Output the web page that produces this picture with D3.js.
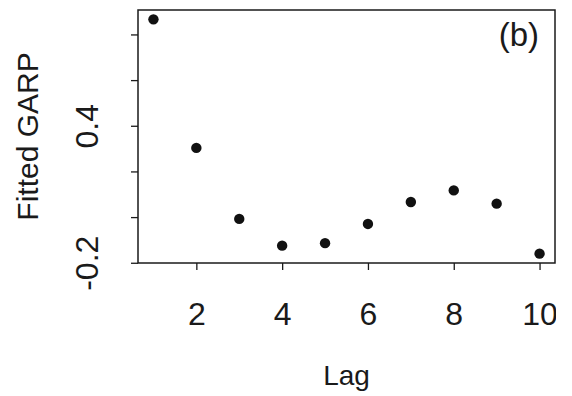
<!DOCTYPE html>
<html>
<head>
<meta charset="utf-8">
<script src="https://cdn.jsdelivr.net/npm/d3@7/dist/d3.min.js"></script>
<style>
  html, body { margin: 0; padding: 0; background: #fff; }
  svg { display: block; font-family: "Liberation Sans", Arial, Helvetica, sans-serif; }
</style>
</head>
<body>
<svg id="chart" width="572" height="396"></svg>
<script>
// Fitted GARP coefficient by lag
const lags = [1, 2, 3, 4, 5, 6, 7, 8, 9, 10];
const fitted = [0.866, 0.303, -0.008, -0.125, -0.114, -0.030, 0.066, 0.117, 0.059, -0.160];
const xTickValues = [2, 4, 6, 8, 10];
const yTickValues = [-0.2, 0.0, 0.2, 0.4, 0.6, 0.8];
const yTickLabels = ["-0.2", "", "", "0.4", "", ""];

const svg = d3.select("#chart");
const box = { left: 138, top: 10, right: 555, bottom: 263 };
const ink = "#1a1a1a";

svg.append("defs").append("clipPath").attr("id", "page")
  .append("rect").attr("x", 0).attr("y", 0).attr("width", 556).attr("height", 396);

// R-style 4% padding around the data range
const pad = (lo, hi) => { const d = (hi - lo) * 0.04; return [lo - d, hi + d]; };
const x = d3.scaleLinear().domain(pad(d3.min(lags), d3.max(lags))).range([box.left, box.right]);
const y = d3.scaleLinear().domain(pad(d3.min(fitted), d3.max(fitted))).range([box.bottom, box.top]);

// x axis
const xAxis = svg.append("g")
  .attr("clip-path", "url(#page)")
  .attr("transform", `translate(0,${box.bottom})`)
  .call(d3.axisBottom(x).tickValues(xTickValues).tickSize(7).tickFormat(d3.format("d")));
xAxis.select(".domain").remove();
xAxis.selectAll(".tick line").attr("stroke", ink).attr("stroke-width", 1.3);
xAxis.selectAll(".tick text")
  .attr("fill", ink).attr("font-size", 32).attr("dy", 0).attr("y", 62);

// y axis with rotated labels
const yAxis = svg.append("g")
  .attr("transform", `translate(${box.left},0)`)
  .call(d3.axisLeft(y).tickValues(yTickValues).tickSize(7).tickFormat((d, i) => yTickLabels[i]));
yAxis.select(".domain").remove();
yAxis.selectAll(".tick line").attr("stroke", ink).attr("stroke-width", 1.3);
yAxis.selectAll(".tick text")
  .attr("fill", ink).attr("font-size", 32)
  .attr("x", null).attr("dy", null)
  .attr("text-anchor", "middle")
  .attr("transform", `translate(-40,0) rotate(-90)`);

// plot frame
svg.append("rect")
  .attr("x", box.left).attr("y", box.top)
  .attr("width", box.right - box.left).attr("height", box.bottom - box.top)
  .attr("fill", "none").attr("stroke", ink).attr("stroke-width", 1.5);

// points
svg.append("g").selectAll("circle")
  .data(lags.map((l, i) => ({ lag: l, v: fitted[i] })))
  .join("circle")
  .attr("cx", d => x(d.lag))
  .attr("cy", d => y(d.v))
  .attr("r", 5.2)
  .attr("fill", "#111");

// panel tag
svg.append("text")
  .attr("x", 539).attr("y", 46)
  .attr("text-anchor", "end")
  .attr("font-size", 33).attr("fill", ink)
  .text("(b)");

// axis titles
svg.append("text")
  .attr("x", (box.left + box.right) / 2).attr("y", 385)
  .attr("text-anchor", "middle")
  .attr("font-size", 28).attr("fill", ink)
  .text("Lag");

svg.append("text")
  .attr("transform", `translate(38,${(box.top + box.bottom) / 2}) rotate(-90)`)
  .attr("text-anchor", "middle")
  .attr("font-size", 30).attr("fill", ink)
  .text("Fitted GARP");
</script>
</body>
</html>
